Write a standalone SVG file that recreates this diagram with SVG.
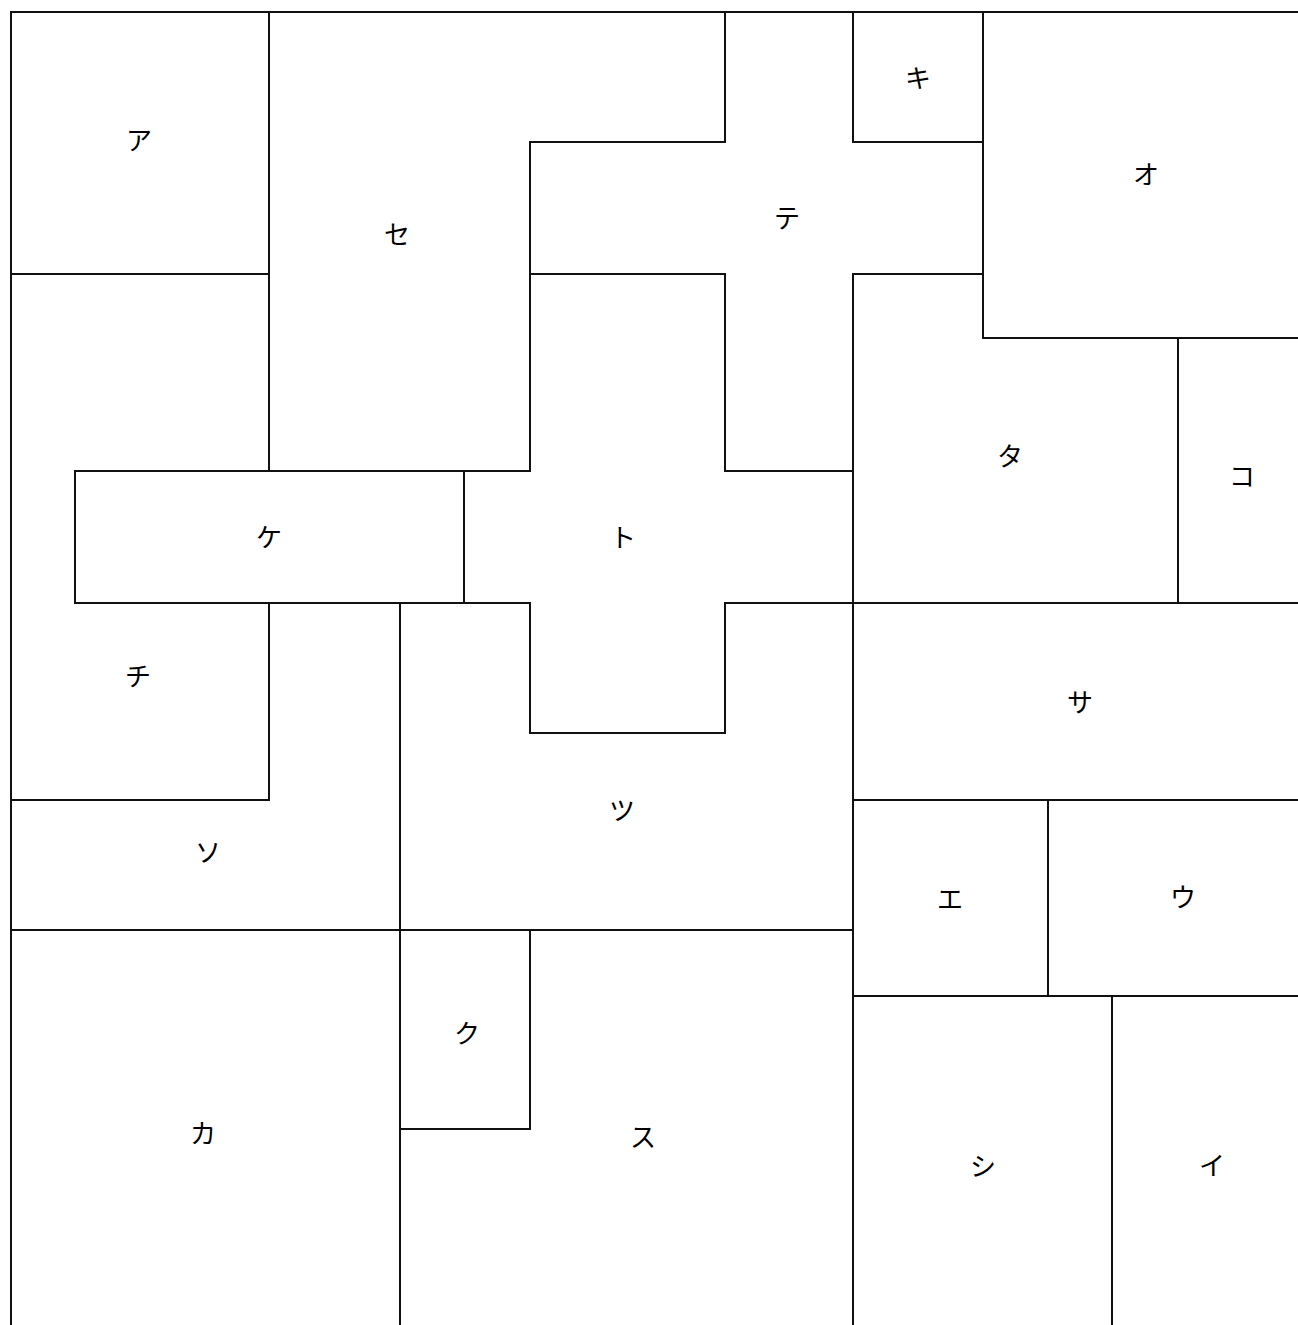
<svg xmlns="http://www.w3.org/2000/svg" width="1298" height="1325" viewBox="0 0 1298 1325">
<style>
.r{fill:#fff;stroke:#111;stroke-width:2;stroke-linejoin:miter}
.t{font-family:"Noto Sans CJK JP","Noto Sans",sans-serif;font-size:26px;fill:#000;text-anchor:middle;dominant-baseline:central}
</style>
<rect x="0" y="0" width="1298" height="1325" fill="#fff"/>
<g id="room-a"><polygon class="r" points="11,12 269,12 269,274 11,274"/><text class="t" x="139" y="138">ア</text></g>
<g id="room-se"><polygon class="r" points="269,12 725,12 725,142 530,142 530,471 269,471"/><text class="t" x="397" y="232">セ</text></g>
<g id="room-chi"><polygon class="r" points="11,274 269,274 269,471 75,471 75,603 269,603 269,800 11,800"/><text class="t" x="138" y="674">チ</text></g>
<g id="room-te"><polygon class="r" points="725,12 853,12 853,142 983,142 983,274 853,274 853,471 725,471 725,274 530,274 530,142 725,142"/><text class="t" x="787" y="216">テ</text></g>
<g id="room-ki"><polygon class="r" points="853,12 983,12 983,142 853,142"/><text class="t" x="918" y="76">キ</text></g>
<g id="room-o"><polygon class="r" points="983,12 1312,12 1312,338 983,338"/><text class="t" x="1146" y="172">オ</text></g>
<g id="room-ta"><polygon class="r" points="853,274 983,274 983,338 1178,338 1178,603 853,603"/><text class="t" x="1010" y="454">タ</text></g>
<g id="room-ko"><polygon class="r" points="1178,338 1312,338 1312,603 1178,603"/><text class="t" x="1242" y="474">コ</text></g>
<g id="room-ke"><polygon class="r" points="75,471 464,471 464,603 75,603"/><text class="t" x="269" y="535">ケ</text></g>
<g id="room-to"><polygon class="r" points="530,274 725,274 725,471 853,471 853,603 725,603 725,733 530,733 530,603 464,603 464,471 530,471"/><text class="t" x="623" y="535">ト</text></g>
<g id="room-sa"><polygon class="r" points="853,603 1312,603 1312,800 853,800"/><text class="t" x="1080" y="700">サ</text></g>
<g id="room-tsu"><polygon class="r" points="400,603 530,603 530,733 725,733 725,603 853,603 853,930 400,930"/><text class="t" x="622" y="808">ツ</text></g>
<g id="room-so"><polygon class="r" points="269,603 400,603 400,930 11,930 11,800 269,800"/><text class="t" x="208" y="850">ソ</text></g>
<g id="room-e"><polygon class="r" points="853,800 1048,800 1048,996 853,996"/><text class="t" x="950" y="897">エ</text></g>
<g id="room-u"><polygon class="r" points="1048,800 1312,800 1312,996 1048,996"/><text class="t" x="1183" y="895">ウ</text></g>
<g id="room-ka"><polygon class="r" points="11,930 400,930 400,1340 11,1340"/><text class="t" x="203" y="1131">カ</text></g>
<g id="room-ku"><polygon class="r" points="400,930 530,930 530,1129 400,1129"/><text class="t" x="467" y="1031">ク</text></g>
<g id="room-su"><polygon class="r" points="530,930 853,930 853,1340 400,1340 400,1129 530,1129"/><text class="t" x="643" y="1135">ス</text></g>
<g id="room-shi"><polygon class="r" points="853,996 1112,996 1112,1340 853,1340"/><text class="t" x="983" y="1164">シ</text></g>
<g id="room-i"><polygon class="r" points="1112,996 1312,996 1312,1340 1112,1340"/><text class="t" x="1212" y="1163">イ</text></g>
<g id="connectors"></g>
</svg>
